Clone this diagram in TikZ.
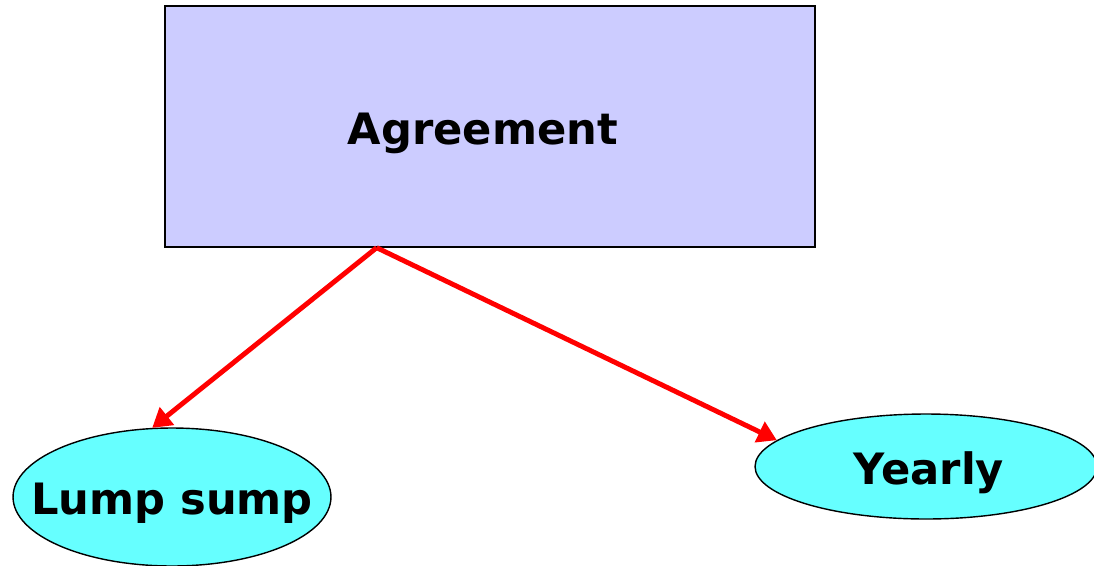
\documentclass[tikz,border=0pt]{standalone}
\usepackage{fontspec}
\setmainfont{DejaVu Sans}
\usetikzlibrary{shapes.geometric,arrows.meta,calc}
\definecolor{boxfill}{HTML}{CCCCFF}
\definecolor{ellfill}{HTML}{66FFFF}
\begin{document}
\begin{tikzpicture}[x=0.02cm,y=-0.02cm,
  lbl/.style={font=\fontsize{24.6}{28}\selectfont\bfseries, inner sep=0pt},
  agrbox/.style={draw=black, line width=0.8pt, fill=boxfill, rectangle, inner sep=0pt, minimum width=13cm, minimum height=4.82cm},
  ell/.style={draw=black, line width=0.8pt, fill=ellfill, ellipse, inner sep=0pt},
  conn/.style={draw=red, line width=2.8pt, -{Triangle[length=0.38cm, width=0.44cm]}}
]
\useasboundingbox (0,0) rectangle (1094,565);
\node[agrbox, label={[lbl, xshift=-0.14cm, yshift=-0.13cm]center:Agreement}] (agr) at (490,126.5) {};
\node[ell, minimum width=6.36cm, minimum height=2.76cm, label={[lbl, yshift=-0.13cm]center:Lump sump}] (lump) at (172,497) {};
\node[ell, minimum width=6.84cm, minimum height=2.1cm, label={[lbl, xshift=0.06cm, yshift=-0.12cm]center:Yearly}] (yearly) at (926,466.5) {};
\coordinate (src) at ($(agr.south west)!0.326!(agr.south east)$);
\draw[conn] (src) -- (lump.106);
\draw[conn] (src) -- (yearly.170);
\end{tikzpicture}
\end{document}
